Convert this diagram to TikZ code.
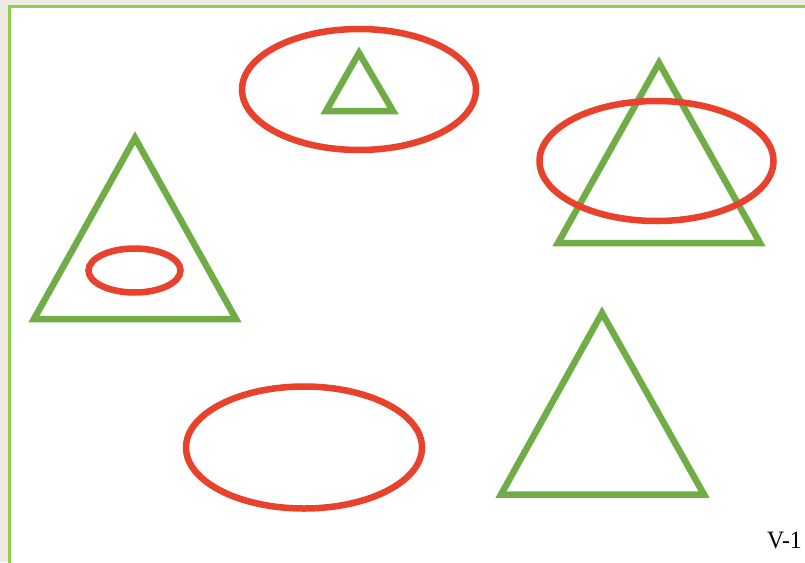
\documentclass[tikz,border=0pt]{standalone}
\usepackage{fontspec}
\setmainfont{Liberation Serif}
\definecolor{bgbeige}{HTML}{EDEBE1}
\definecolor{frameg}{HTML}{8DD050}
\definecolor{shapeg}{HTML}{70AD47}
\definecolor{shaper}{HTML}{E8412C}
\tikzset{
  tri/.style={draw=shapeg, line width=6.5pt, line join=miter},
  ell/.style={draw=shaper, line width=6.5pt},
}
\begin{document}
\begin{tikzpicture}[x=1pt,y=-1pt]
\fill[bgbeige] (0,0) rectangle (805,562);
\useasboundingbox (0,0) rectangle (805,562);
\fill[white] (9,6) rectangle (806,563);
\draw[frameg, line width=3.2pt] (9.5,564) -- (9.5,6.5) -- (806,6.5);
% top ellipse with small triangle
\draw[ell] (359,89.5) ellipse [x radius=117, y radius=60.5];
\draw[tri] (359,53) -- (326,111) -- (393,111) -- cycle;
% right triangle with ellipse
\draw[tri] (659,63) -- (558,243) -- (760,243) -- cycle;
\draw[ell] (656.5,161) ellipse [x radius=117, y radius=60];
% left triangle with small ellipse
\draw[tri] (135,138) -- (34,319) -- (236,319) -- cycle;
\draw[ell] (134.5,270.5) ellipse [x radius=46, y radius=22];
% bottom ellipse
\draw[ell] (304,447.5) ellipse [x radius=118, y radius=61];
% bottom right triangle
\draw[tri] (602,313) -- (501,494.5) -- (704,494.5) -- cycle;
% label
\node[anchor=base east, font=\fontsize{25}{30}\selectfont, xscale=0.95, transform shape, inner sep=0pt] (lbl) at (802,548) {V-1};
\end{tikzpicture}
\end{document}
